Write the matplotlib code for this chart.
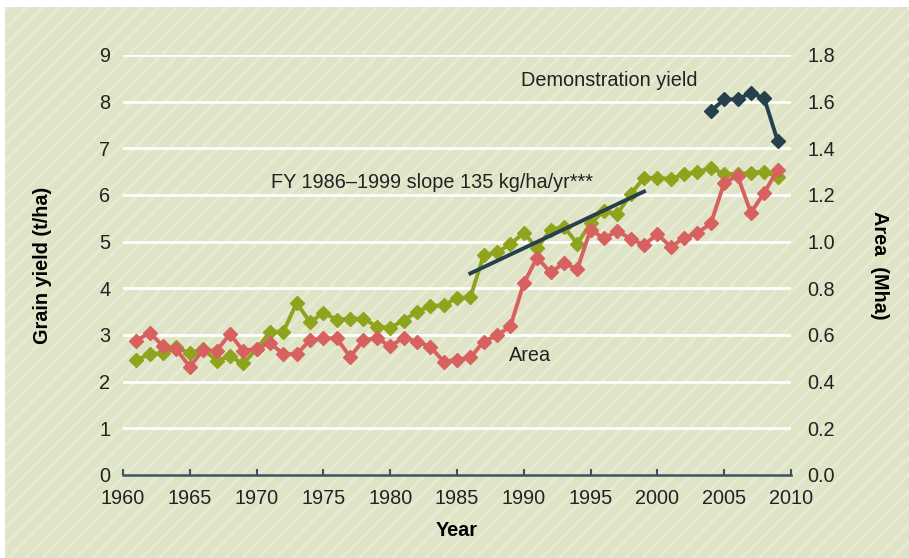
import matplotlib.pyplot as plt
from matplotlib.patches import Rectangle

# Grain yield (t/ha), 1961-2009
years = list(range(1961, 2010))
grain_yield = [2.46, 2.59, 2.61, 2.74, 2.61, 2.70, 2.45, 2.54, 2.39, 2.70,
               3.07, 3.07, 3.69, 3.27, 3.48, 3.33, 3.35, 3.35, 3.18, 3.16,
               3.31, 3.50, 3.62, 3.64, 3.79, 3.81, 4.71, 4.77, 4.95, 5.19,
               4.86, 5.26, 5.32, 4.96, 5.39, 5.66, 5.59, 6.02, 6.37, 6.36,
               6.35, 6.44, 6.50, 6.57, 6.46, 6.44, 6.48, 6.50, 6.39]
# Harvested area (Mha), right axis
area = [0.576, 0.610, 0.552, 0.538, 0.464, 0.536, 0.532, 0.604, 0.532, 0.542,
        0.566, 0.518, 0.518, 0.578, 0.586, 0.586, 0.506, 0.578, 0.586, 0.552,
        0.588, 0.572, 0.550, 0.486, 0.494, 0.504, 0.572, 0.598, 0.638, 0.822,
        0.932, 0.868, 0.908, 0.882, 1.052, 1.014, 1.046, 1.012, 0.986, 1.032,
        0.978, 1.016, 1.038, 1.078, 1.252, 1.282, 1.124, 1.210, 1.308]
# Demonstration yield (t/ha)
demo_years = [2004, 2005, 2006, 2007, 2008, 2009]
demo_yield = [7.80, 8.05, 8.05, 8.19, 8.07, 7.16]
# FY 1986-1999 trend: 135 kg/ha/yr
trend_years = [1986, 1999]
trend_start = 4.32
trend_slope = 0.135

GREEN = "#8fa31c"
RED = "#d6615f"
DARK = "#27404d"
AXIS = "#3d5360"
FS = 14.3

plt.rcParams['font.family'] = ['Liberation Sans', 'DejaVu Sans']
plt.rcParams['hatch.linewidth'] = 2.0
plt.rcParams['hatch.color'] = "#e7ead4"

fig = plt.figure(figsize=(9.09, 5.58), dpi=100)
fig.patch.set_facecolor("white")
# hatched panel background
bg = Rectangle((5/909, 0), 1, 1 - 7/558, transform=fig.transFigure,
               facecolor="#e0e4c6", edgecolor="#e7ead4", linewidth=0,
               hatch="//", zorder=-10)
fig.patches.append(bg)

ax = fig.add_axes([123/909, 1 - 475/558, 668/909, 420/558])
ax.patch.set_visible(False)
ax.set_xlim(1960, 2010)
ax.set_ylim(0, 9)
ax.set_yticks(range(0, 10))
ax.set_xticks(range(1960, 2011, 5))
for y in range(1, 10):
    ax.axhline(y, color="white", linewidth=2, zorder=0)

for s in ["top", "left", "right"]:
    ax.spines[s].set_visible(False)
ax.spines["bottom"].set_color(AXIS)
ax.spines["bottom"].set_linewidth(1.8)
ax.tick_params(axis="x", direction="in", length=4, width=1.5, color=AXIS,
               labelsize=FS, pad=10, labelcolor="#222222")
ax.tick_params(axis="y", length=0, labelsize=FS, pad=9, labelcolor="#222222")

ax.plot(years, grain_yield, color=GREEN, linewidth=2.8, marker="D",
        markersize=7.5, zorder=3)
ax.plot(demo_years, demo_yield, color=DARK, linewidth=2.8, marker="D",
        markersize=7.5, zorder=3)
trend_vals = [trend_start, trend_start + trend_slope * (trend_years[1] - trend_years[0])]
ax.plot(trend_years, trend_vals, color=DARK, linewidth=2.8, zorder=5)

ax.text(1989.8, 8.46, "Demonstration yield", fontsize=FS, va="center", ha="left",
        color="#222222")
ax.text(1971.1, 6.26, "FY 1986\u20131999 slope 135 kg/ha/yr***", fontsize=FS,
        va="center", ha="left", color="#222222")
ax.text(1988.9, 2.57, "Area", fontsize=FS, va="center", ha="left", color="#222222")

ax.set_xlabel("Year", fontsize=FS, fontweight="bold", va="center")
ax.xaxis.set_label_coords(0.5, -0.131)
ax.set_ylabel("Grain yield (t/ha)", fontsize=FS, fontweight="bold", va="center")
ax.yaxis.set_label_coords(-0.121, 0.5)

ax2 = ax.twinx()
ax2.set_ylim(0, 1.8)
ax2.set_yticks([0.2 * i for i in range(10)])
ax2.set_yticklabels(["%.1f" % (0.2 * i) for i in range(10)])
for s in ["top", "left", "right", "bottom"]:
    ax2.spines[s].set_visible(False)
ax2.tick_params(axis="y", length=0, labelsize=FS, pad=12, labelcolor="#222222")
ax2.plot(years, area, color=RED, linewidth=2.8, marker="D", markersize=7.5, zorder=4)
ax2.set_ylabel("Area  (Mha)", fontsize=FS, fontweight="bold", rotation=-90,
               va="center")
ax2.yaxis.set_label_coords(1.133, 0.5)

fig.savefig("out.png", dpi=100)
